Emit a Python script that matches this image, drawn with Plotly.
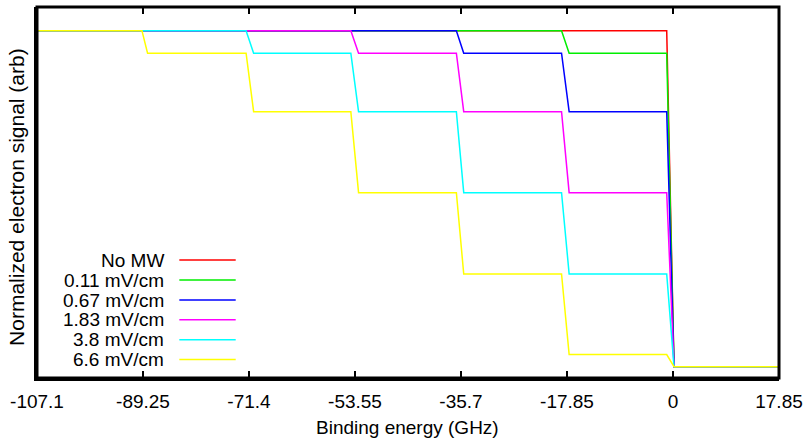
import plotly.graph_objects as go

# ---- data ----
x_min, x_max = -107.1, 17.85
tick_vals = [-107.1, -89.25, -71.4, -53.55, -35.7, -17.85, 0, 17.85]
tick_text = ["-107.1", "-89.25", "-71.4", "-53.55", "-35.7", "-17.85", "0", "17.85"]

# binding energies where each step begins and ends (GHz)
step_start = [-89.43, -71.89, -54.25, -36.48, -18.77, -1.06]
step_end = [-88.48, -70.62, -52.95, -35.24, -17.49, 0.17]

series_names = ["No MW", "0.11 mV/cm", "0.67 mV/cm", "1.83 mV/cm", "3.8 mV/cm", "6.6 mV/cm"]
series_colors = ["#ff0000", "#00ee00", "#0000ff", "#ff00ff", "#00ffff", "#ffff00"]

# normalized signal on each plateau (7 plateaus separated by the 6 steps)
levels_no_mw = [1, 1, 1, 1, 1, 1, 0]
levels_011 = [1, 1, 1, 1, 1, 0.933, 0]
levels_067 = [1, 1, 1, 1, 0.933, 0.759, 0]
levels_183 = [1, 1, 1, 0.933, 0.759, 0.518, 0]
levels_38 = [1, 1, 0.933, 0.759, 0.518, 0.276, 0]
levels_66 = [1, 0.933, 0.759, 0.518, 0.276, 0.036, 0]
all_levels = [levels_no_mw, levels_011, levels_067, levels_183, levels_38, levels_66]

FONT = "Liberation Sans, Arial, sans-serif"
FS = 19

fig = go.Figure()
for name, color, lv in zip(series_names, series_colors, all_levels):
    xs = [x_min]
    ys = [lv[0]]
    for i, (s, e) in enumerate(zip(step_start, step_end)):
        xs += [s, e]
        ys += [lv[i], lv[i + 1]]
    xs.append(x_max)
    ys.append(lv[-1])
    fig.add_trace(go.Scatter(x=xs, y=ys, mode="lines", name=name,
                             line=dict(color=color, width=1.5),
                             showlegend=False, hoverinfo="skip"))

# invisible trace so the mirrored top axis (ticks only) is drawn
fig.add_trace(go.Scatter(x=[x_min, x_max], y=[None, None], xaxis="x2",
                         mode="lines", showlegend=False, hoverinfo="skip"))

# gnuplot-style key: text right-aligned, sample line to its right
row_y = [0.318, 0.264, 0.210, 0.157, 0.103, 0.050]
for name, color, yy in zip(series_names, series_colors, row_y):
    fig.add_annotation(x=0.1735, y=yy, xref="paper", yref="paper", text=name,
                       showarrow=False, xanchor="right", yanchor="middle",
                       font=dict(family=FONT, size=FS, color="black"))
    fig.add_shape(type="line", xref="paper", yref="paper",
                  x0=0.1918, x1=0.2678, y0=yy, y1=yy,
                  line=dict(color=color, width=1.5))

# frame around the plot area
fig.add_shape(type="rect", xref="paper", yref="paper", x0=0, x1=1, y0=0, y1=1,
              line=dict(color="black", width=3), layer="above")

# axis titles
fig.add_annotation(x=0.4987, y=-0.133, xref="paper", yref="paper",
                   text="Binding energy (GHz)", showarrow=False,
                   xanchor="center", yanchor="middle",
                   font=dict(family=FONT, size=FS, color="black"))
fig.add_annotation(x=-0.027, y=0.488, xref="paper", yref="paper",
                   text="Normalized electron signal (arb)", showarrow=False,
                   textangle=-90, xanchor="center", yanchor="middle",
                   font=dict(family=FONT, size=21, color="black"))

fig.update_layout(
    width=810, height=438,
    margin=dict(l=37, r=31, t=7, b=60, autoexpand=False),
    paper_bgcolor="white", plot_bgcolor="white",
    font=dict(family=FONT, size=FS, color="black"),
    showlegend=False,
    xaxis2=dict(overlaying="x", side="top", range=[x_min, x_max],
                tickmode="array", tickvals=tick_vals, showticklabels=False,
                ticks="inside", ticklen=7, tickwidth=2, tickcolor="black",
                showline=False, showgrid=False, zeroline=False),
)
fig.layout.xaxis.update(range=[x_min, x_max], tickmode="array", tickvals=tick_vals,
                        ticktext=tick_text, ticks="inside", ticklen=7, tickwidth=2,
                        tickcolor="black", showline=True, linecolor="black", linewidth=3,
                        showgrid=False, zeroline=False, ticklabelstandoff=4,
                        tickfont=dict(family=FONT, size=FS))
fig.layout.yaxis.update(range=[-0.0336, 1.0705], showticklabels=False, ticks="",
                        showline=True, linecolor="black", linewidth=3,
                        showgrid=False, zeroline=False)

fig.write_html("out.html", config={"displayModeBar": False},
               post_script="document.body.style.margin='0px';")
